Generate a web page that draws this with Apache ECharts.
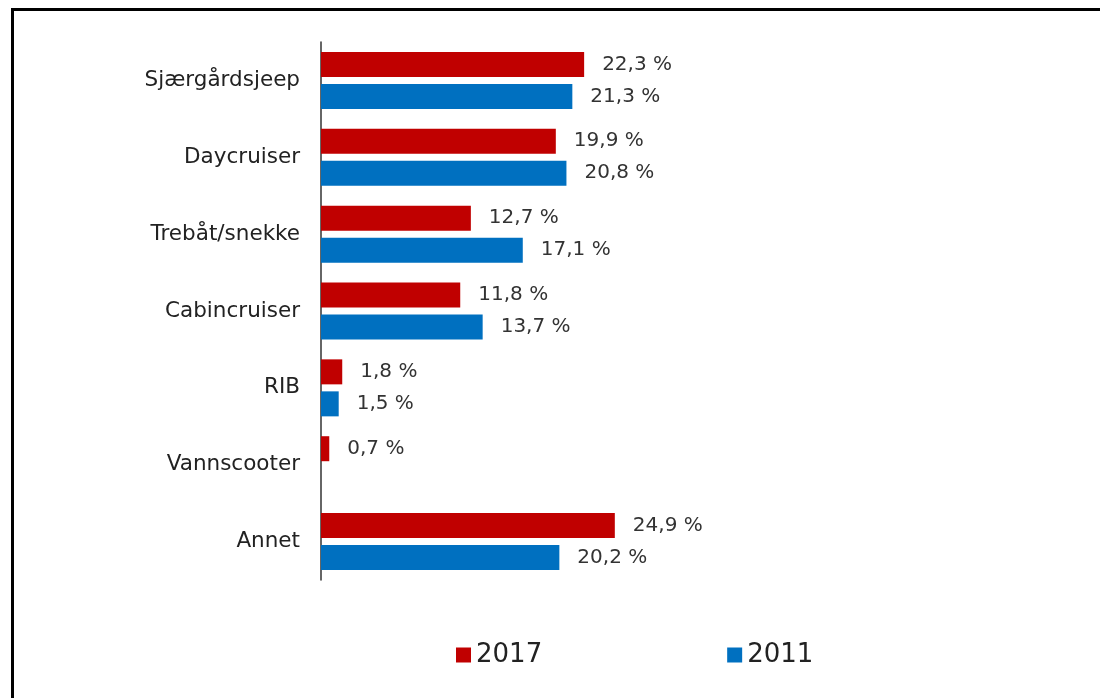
<!DOCTYPE html>
<html>
<head>
<meta charset="utf-8">
<script src="https://cdn.jsdelivr.net/npm/echarts@6/dist/echarts.min.js"></script>
<style>
  html, body { margin: 0; padding: 0; background: #fff; }
  #main { width: 1100px; height: 698px; }
</style>
</head>
<body>
<div id="main"></div>
<script>
// data
var categories = ['Sjærgårdsjeep', 'Daycruiser', 'Trebåt/snekke', 'Cabincruiser', 'RIB', 'Vannscooter', 'Annet'];
var values2017 = [22.3, 19.9, 12.7, 11.8, 1.8, 0.7, 24.9];
var values2011 = [21.3, 20.8, 17.1, 13.7, 1.5, null, 20.2];

var fontFamily = '"DejaVu Sans", Verdana, sans-serif';

function pct(p) {
    return p.value.toFixed(1).replace('.', ',') + ' %';
}

var myChart = echarts.init(document.getElementById('main'));

var option = {
    animation: false,
    backgroundColor: '#fff',
    textStyle: { fontFamily: fontFamily },
    graphic: [{
        type: 'rect',
        shape: { x: 12.5, y: 9.5, width: 1200, height: 800 },
        style: { fill: 'none', stroke: '#000', lineWidth: 3 },
        silent: true
    }],
    grid: {
        left: 321,
        top: 42,
        width: 354,
        bottom: 118
    },
    legend: {
        data: ['2017', '2011'],
        left: 451,
        top: 637,
        itemWidth: 15,
        itemHeight: 15,
        itemGap: 185,
        icon: 'rect',
        textStyle: { fontSize: 26, color: '#222', fontFamily: fontFamily }
    },
    xAxis: {
        type: 'value',
        min: 0,
        max: 30,
        show: false
    },
    yAxis: {
        type: 'category',
        data: categories,
        inverse: true,
        axisLine: { show: true, lineStyle: { color: '#333', width: 1.5 } },
        axisTick: { show: false },
        axisLabel: { fontSize: 21.5, color: '#222', margin: 21, fontFamily: fontFamily },
        splitLine: { show: false }
    },
    series: [{
        name: '2017',
        type: 'bar',
        data: values2017,
        barWidth: 25,
        barGap: '28%',
        itemStyle: { color: '#C00000' },
        label: { show: true, position: 'right', distance: 18, fontSize: 20, color: '#333', formatter: pct }
    }, {
        name: '2011',
        type: 'bar',
        data: values2011,
        barWidth: 25,
        itemStyle: { color: '#0070C0' },
        label: { show: true, position: 'right', distance: 18, fontSize: 20, color: '#333', formatter: pct }
    }]
};

myChart.setOption(option);
window.addEventListener('resize', myChart.resize);
</script>
</body>
</html>
